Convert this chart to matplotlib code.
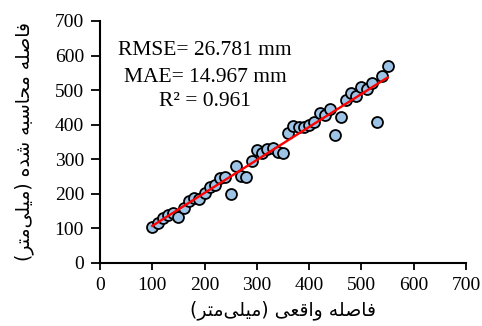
import numpy as np
import matplotlib
matplotlib.use("Agg")
import matplotlib.pyplot as plt

# values
actual = [100, 110, 120, 130, 140, 150, 160, 170, 180, 190,
          200, 210, 220, 230, 240, 250, 260, 270, 280, 290,
          300, 310, 320, 330, 340, 350, 360, 370, 380, 390,
          400, 410, 420, 430, 440, 450, 460, 470, 480, 490,
          500, 510, 520, 530, 540, 550]
predicted = [104, 117, 129, 139, 144, 134, 158, 179, 187, 185,
             203, 221, 227, 247, 250, 200, 281, 253, 248, 294,
             326, 319, 329, 334, 322, 317, 375, 396, 392, 394,
             399, 409, 435, 428, 445, 370, 423, 472, 491, 483,
             508, 502, 522, 407, 541, 571]
ticks = [0, 100, 200, 300, 400, 500, 600, 700]
stats = ["RMSE= 26.781 mm", "MAE= 14.967 mm", "R\u00b2 = 0.961"]
xlabel = "فاصله واقعی (میلی\u200cمتر)"
ylabel = "فاصله محاسبه شده (میلی\u200cمتر)"

# arabic presentation forms: isolated, final, initial, medial
FORMS = {
    'ا': 'ﺍﺎ', 'د': 'ﺩﺪ', 'ر': 'ﺭﺮ', 'و': 'ﻭﻮ',
    'ب': 'ﺏﺐﺑﺒ', 'ت': 'ﺕﺖﺗﺘ', 'ح': 'ﺡﺢﺣﺤ', 'س': 'ﺱﺲﺳﺴ',
    'ش': 'ﺵﺶﺷﺸ', 'ص': 'ﺹﺺﺻﺼ', 'ع': 'ﻉﻊﻋﻌ', 'ف': 'ﻑﻒﻓﻔ',
    'ق': 'ﻕﻖﻗﻘ', 'ل': 'ﻝﻞﻟﻠ', 'م': 'ﻡﻢﻣﻤ', 'ه': 'ﻩﻪﻫﻬ',
    'ی': 'ﻯﻰﻳﻴ',
}


def shape(s):
    out = []
    for i, ch in enumerate(s):
        if ch not in FORMS:
            out.append(ch)
            continue
        f = FORMS[ch]
        prev = s[i - 1] if i > 0 else ''
        nxt = s[i + 1] if i + 1 < len(s) else ''
        jp = prev in FORMS and len(FORMS[prev]) == 4
        jn = nxt in FORMS and len(f) == 4
        if jp and jn:
            out.append(f[3])
        elif jp:
            out.append(f[1])
        elif jn:
            out.append(f[2])
        else:
            out.append(f[0])
    vis = ''.join(reversed(out)).replace('\u200c', '')
    return vis.translate(str.maketrans('()', ')('))


plt.rcParams['font.family'] = ['Liberation Serif', 'DejaVu Sans']

fig = plt.figure(figsize=(4.82, 3.26), dpi=100)
ax = fig.add_axes([0.2075, 0.1933, 0.7593, 0.7423])

a = np.array(actual)
p = np.array(predicted)
m, b = np.polyfit(a, p, 1)
ax.scatter(a, p, s=62, facecolor='#9dc3e6', edgecolor='black',
           linewidth=1.3, zorder=3)
xs = np.array([a.min(), a.max()])
ax.plot(xs, m * xs + b, color='#ff0000', lw=1.7, zorder=4)

ax.set_xlim(0, 700)
ax.set_ylim(0, 700)
ax.set_xticks(ticks)
ax.set_yticks(ticks)
ax.tick_params(labelsize=14, width=1.3, direction='out')
ax.tick_params(axis='y', length=6.5, pad=5)
ax.tick_params(axis='x', length=5, pad=5)
for s in ['top', 'right']:
    ax.spines[s].set_visible(False)
for s in ['left', 'bottom']:
    ax.spines[s].set_linewidth(1.5)

for txt, yy in zip(stats, [0.86, 0.748, 0.649]):
    ax.text(0.287, yy, txt, transform=ax.transAxes, ha='center',
            va='baseline', fontsize=15.5)

ax.set_xlabel(shape(xlabel), family='DejaVu Sans', fontsize=13.5, labelpad=5)
ax.set_ylabel(shape(ylabel), family='DejaVu Sans', fontsize=13.5, labelpad=15)

fig.savefig('out.png', dpi=100)
